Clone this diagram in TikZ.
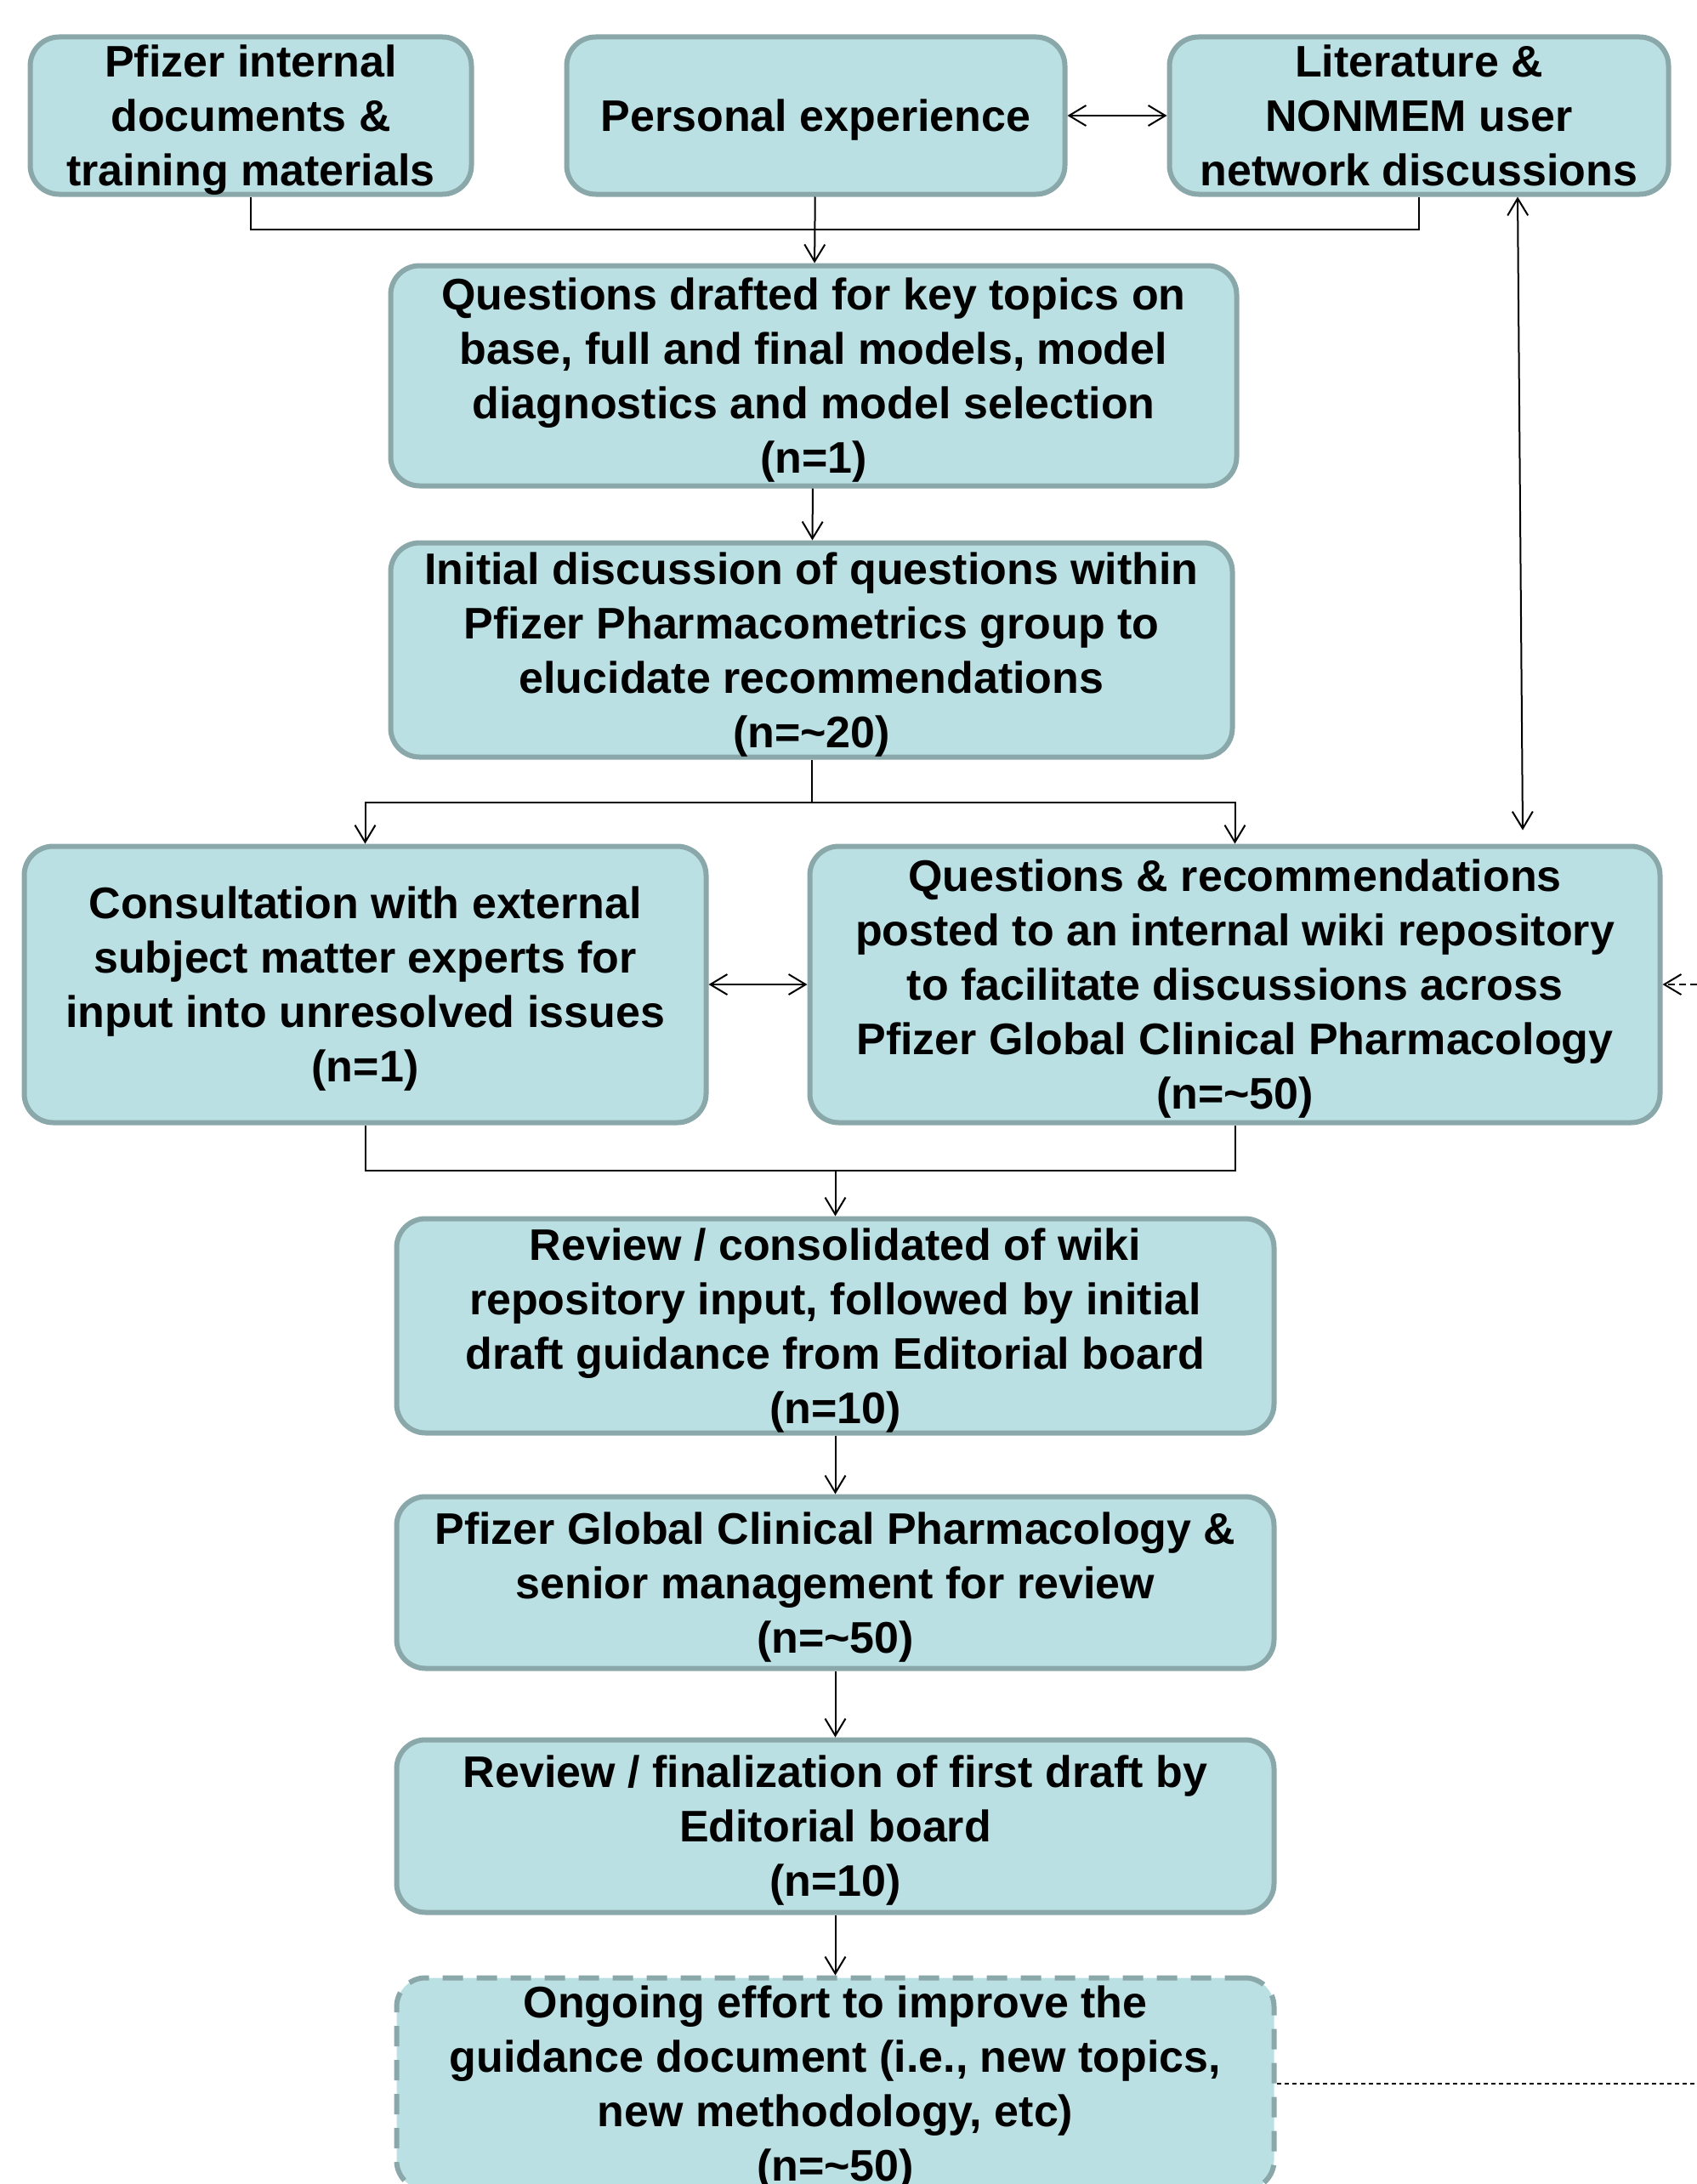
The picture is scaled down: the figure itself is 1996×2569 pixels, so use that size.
\documentclass[tikz,border=0pt]{standalone}
\usepackage{fontspec}
\setmainfont{Liberation Sans}
\usetikzlibrary{arrows.meta}
\definecolor{boxfill}{HTML}{BBE0E3}
\definecolor{boxline}{HTML}{8AA8A9}
\begin{document}
\begin{tikzpicture}[x=1pt,y=-1pt,
  stepbox/.style={draw=boxline, fill=boxfill, line width=6pt, rounded corners=34pt, align=center, inner sep=4pt, font=\fontsize{52}{64}\selectfont\bfseries, text depth=0pt},
  ongoing/.style={stepbox, dash pattern=on 24pt off 16pt},
  link/.style={line width=2pt},
  arr/.style={link, -{Straight Barb[length=20pt,width=24pt,line width=2pt]}},
  dblarr/.style={link, {Straight Barb[length=20pt,width=24pt,line width=2pt]}-{Straight Barb[length=20pt,width=24pt,line width=2pt]}}]
\useasboundingbox (0,0) rectangle (1996,2569);
\clip (0,0) rectangle (1996,2569);
\node[stepbox, minimum width=519pt, minimum height=185pt] (pfz) at (295,136) {Pfizer internal\\documents \&\\training materials};
\node[stepbox, minimum width=586pt, minimum height=185pt] (pers) at (959.5,136) {Personal experience};
\node[stepbox, minimum width=587pt, minimum height=185pt] (lit) at (1669,136) {Literature \&\\NONMEM user\\network discussions};
\node[stepbox, minimum width=995pt, minimum height=259pt] (draft) at (957,442) {Questions drafted for key topics on\\base, full and final models, model\\diagnostics and model selection\\(n=1)};
\node[stepbox, minimum width=990pt, minimum height=252pt] (disc) at (954.5,764.5) {Initial discussion of questions within\\Pfizer Pharmacometrics group to\\elucidate recommendations\\(n=\textasciitilde20)};
\node[stepbox, minimum width=802pt, minimum height=325pt] (cons) at (429.5,1158) {Consultation with external\\subject matter experts for\\input into unresolved issues\\(n=1)};
\node[stepbox, minimum width=1000pt, minimum height=325pt] (wiki) at (1452.5,1158) {Questions \& recommendations\\posted to an internal wiki repository\\to facilitate discussions across\\Pfizer Global Clinical Pharmacology\\(n=\textasciitilde50)};
\node[stepbox, minimum width=1032pt, minimum height=252pt] (rev) at (982.5,1559.5) {Review / consolidated of wiki\\repository input, followed by initial\\draft guidance from Editorial board\\(n=10)};
\node[stepbox, minimum width=1032pt, minimum height=202pt] (glob) at (982.5,1861.5) {Pfizer Global Clinical Pharmacology \&\\senior management for review\\(n=\textasciitilde50)};
\node[stepbox, minimum width=1032pt, minimum height=203pt] (fin) at (982.5,2148) {Review / finalization of first draft by\\Editorial board\\(n=10)};
\node[ongoing, minimum width=1032pt, minimum height=249pt] (ongo) at (982.5,2451) {Ongoing effort to improve the\\guidance document (i.e., new topics,\\new methodology, etc)\\(n=\textasciitilde50)};
\coordinate (merge) at (959.5,270);
\coordinate (split) at (954.5,944);
\coordinate (join) at (982.5,1377);
\coordinate (wikiin) at (1996,1158);
\coordinate (ongoout) at (1996,2451);
\draw[link] (pfz.south) |- (merge) -| (lit.south);
\draw[arr] (pers) -- (draft);
\draw[dblarr] (pers) -- (lit);
\draw[arr] (draft) -- (disc);
\draw[link] (disc) -- (split);
\draw[arr] (split) -| (cons);
\draw[arr] (split) -| (wiki);
\draw[dblarr] (cons) -- (wiki);
\draw[dblarr] ([xshift=116pt]lit.south) -- ([xshift=338.5pt,yshift=16pt]wiki.north);
\draw[arr, dash pattern=on 8pt off 5pt] (wikiin) -- (wiki.east);
\draw[link] (cons.south) |- (join) -| (wiki.south);
\draw[arr] (join) -- (rev);
\draw[arr] (rev) -- (glob);
\draw[arr] (glob) -- (fin);
\draw[arr] (fin) -- (ongo);
\draw[link, dash pattern=on 5pt off 4pt] (ongo.east) -- (ongoout);
\end{tikzpicture}
\end{document}
